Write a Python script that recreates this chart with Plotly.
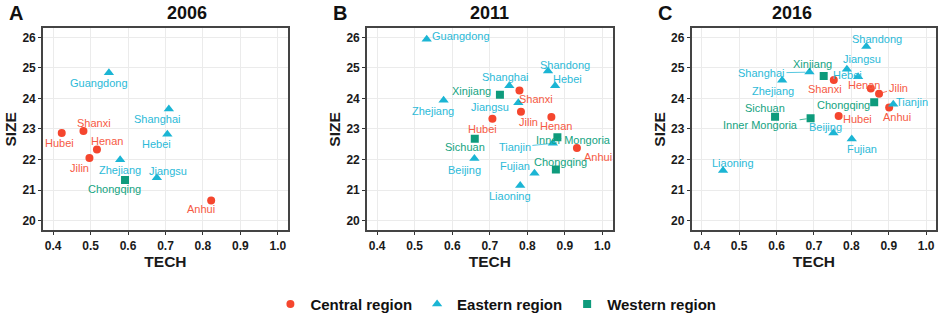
import plotly.graph_objects as go

# ---- data ----
years = ["2006", "2011", "2016"]
panel_letters = ["A", "B", "C"]

central = ["Anhui", "Henan", "Hubei", "Jilin", "Shanxi"]
eastern = ["Beijing", "Fujian", "Guangdong", "Hebei", "Jiangsu", "Liaoning",
           "Shandong", "Shanghai", "Tianjin", "Zhejiang"]
western = ["Chongqing", "Inner Mongoria", "Sichuan", "Xinjiang"]

prov_2006 = ["Guangdong", "Shanghai", "Hebei", "Hubei", "Shanxi", "Henan",
             "Jilin", "Zhejiang", "Jiangsu", "Chongqing", "Anhui"]
tech_2006 = [0.549, 0.709, 0.705, 0.423, 0.481, 0.517, 0.497, 0.579, 0.677, 0.592, 0.822]
size_2006 = [24.84, 23.65, 22.83, 22.87, 22.93, 22.33, 22.05, 21.99, 21.40, 21.33, 20.66]

prov_2011 = ["Guangdong", "Shandong", "Hebei", "Shanghai", "Shanxi", "Xinjiang",
             "Zhejiang", "Jiangsu", "Jilin", "Hubei", "Henan", "Sichuan",
             "Inner Mongoria", "Tianjin", "Anhui", "Beijing", "Chongqing",
             "Fujian", "Liaoning"]
tech_2011 = [0.532, 0.855, 0.874, 0.752, 0.779, 0.727, 0.577, 0.776, 0.783, 0.707,
             0.864, 0.660, 0.880, 0.868, 0.932, 0.659, 0.876, 0.819, 0.781]
size_2011 = [25.94, 24.90, 24.41, 24.41, 24.26, 24.12, 23.94, 23.86, 23.56, 23.33,
             23.39, 22.68, 22.73, 22.53, 22.38, 22.03, 21.67, 21.55, 21.15]

prov_2016 = ["Shandong", "Jiangsu", "Hebei", "Shanghai", "Xinjiang", "Zhejiang",
             "Shanxi", "Henan", "Jilin", "Chongqing", "Tianjin", "Anhui", "Sichuan",
             "Inner Mongoria", "Hubei", "Beijing", "Fujian", "Liaoning"]
tech_2016 = [0.840, 0.788, 0.818, 0.688, 0.726, 0.615, 0.753, 0.852, 0.874, 0.861,
             0.912, 0.901, 0.596, 0.691, 0.766, 0.752, 0.801, 0.457]
size_2016 = [25.70, 24.95, 24.71, 24.86, 24.73, 24.59, 24.60, 24.32, 24.15, 23.87,
             23.81, 23.70, 23.40, 23.35, 23.42, 22.87, 22.67, 21.64]

x_ticks = [0.4, 0.5, 0.6, 0.7, 0.8, 0.9, 1.0]
x_tick_text = ["0.4", "0.5", "0.6", "0.7", "0.8", "0.9", "1.0"]
y_ticks = [20, 21, 22, 23, 24, 25, 26]

# ---- styling ----
regions = [
    ("Central region", central, "circle", 8, "#F5462E", "#F65A44"),
    ("Eastern region", eastern, "triangle-up", 9, "#1BB5D4", "#2CBAD8"),
    ("Western region", western, "square", 8, "#0E9B7C", "#14A381"),
]

# label offsets in px (dx right, dy down), third item = leader line
label_pos = {
    "2006": {
        "Guangdong": (-10, 10, 0), "Shanghai": (-11, 10, 0), "Hebei": (-11, 10, 0),
        "Hubei": (-2, 10, 0), "Shanxi": (11, -8, 0), "Henan": (10, -8, 0),
        "Jilin": (-10, 10, 0), "Zhejiang": (0, 10, 0), "Jiangsu": (11, -7, 0),
        "Chongqing": (-11, 9, 0), "Anhui": (-10, 9, 0),
    },
    "2011": {
        "Guangdong": (34, -3, 0), "Shandong": (17, -6, 0), "Hebei": (12, -7, 0),
        "Shanghai": (-4, -9, 0), "Shanxi": (17, 9, 0), "Xinjiang": (-28, -4, 0),
        "Zhejiang": (-11, 11, 0), "Jiangsu": (-28, 4, 0), "Jilin": (8, 10, 0),
        "Hubei": (-10, 10, 0), "Henan": (5, 9, 0), "Sichuan": (-10, 8, 0),
        "Inner Mongoria": (16, 3, 0), "Tianjin": (-38, 4, 1), "Anhui": (21, 9, 0),
        "Beijing": (-10, 11, 0), "Chongqing": (5, -8, 0), "Fujian": (-19, -7, 0),
        "Liaoning": (-10, 11, 0),
    },
    "2016": {
        "Shandong": (11, -7, 0), "Jiangsu": (15, -10, 0), "Hebei": (-11, -2, 0),
        "Shanghai": (-48, 1, 1), "Xinjiang": (-11, -12, 0), "Zhejiang": (-9, 11, 0),
        "Shanxi": (-9, 9, 0), "Henan": (-7, -4, 0), "Jilin": (19, -6, 1),
        "Chongqing": (-31, 3, 0), "Tianjin": (19, -2, 0), "Anhui": (8, 9, 0),
        "Sichuan": (-10, -9, 0), "Inner Mongoria": (-50, 7, 1), "Hubei": (19, 3, 0),
        "Beijing": (-8, -6, 0), "Fujian": (10, 10, 0), "Liaoning": (10, -7, 0),
    },
}

panels = [(prov_2006, tech_2006, size_2006),
          (prov_2011, tech_2011, size_2011),
          (prov_2016, tech_2016, size_2016)]

x_domains = [[0.0457, 0.306], [0.390, 0.651], [0.735, 0.995]]
y_domain = [0.271, 0.910]

FONT = "Liberation Sans, Arial"

fig = go.Figure()
annotations = []

for i, (prov, tech, size) in enumerate(panels):
    xa = "x" if i == 0 else "x%d" % (i + 1)
    ya = "y" if i == 0 else "y%d" % (i + 1)
    for name, members, symbol, msize, color, tcolor in regions:
        idx = [k for k, p in enumerate(prov) if p in members]
        fig.add_trace(go.Scatter(
            x=[tech[k] for k in idx], y=[size[k] for k in idx],
            mode="markers", name=name, legendgroup=name, showlegend=(i == 0),
            marker=dict(symbol=symbol, size=msize, color=color),
            xaxis=xa, yaxis=ya, hoverinfo="skip"))
        for k in idx:
            dx, dy, lead = label_pos[years[i]][prov[k]]
            a = dict(x=tech[k], y=size[k], xref=xa, yref=ya, text=prov[k],
                     font=dict(size=11, color=tcolor, family=FONT))
            if lead:
                a.update(showarrow=True, arrowhead=0, arrowwidth=0.8, arrowcolor=tcolor,
                         ax=dx, ay=dy, standoff=4)
            else:
                a.update(showarrow=False, xshift=dx, yshift=-dy)
            annotations.append(a)

    axis_common = dict(showline=True, linecolor="#444444", linewidth=1.6, mirror=True,
                       showgrid=True, gridcolor="#EBEBEB", gridwidth=1, automargin=False,
                       ticks="outside", ticklen=3, tickcolor="#333333", zeroline=False,
                       tickfont=dict(size=12, color="#1a1a1a", family=FONT, weight="bold"))
    fig.layout[("xaxis" if i == 0 else "xaxis%d" % (i + 1))] = dict(
        axis_common, domain=x_domains[i], anchor=ya, range=[0.373, 1.027],
        tickvals=x_ticks, ticktext=x_tick_text,
        title=dict(text="TECH", standoff=2,
                   font=dict(size=15.5, color="#1a1a1a", family=FONT, weight="bold")))
    fig.layout[("yaxis" if i == 0 else "yaxis%d" % (i + 1))] = dict(
        axis_common, domain=y_domain, anchor=xa, range=[19.68, 26.29],
        tickvals=y_ticks,
        title=dict(text="SIZE", standoff=2,
                   font=dict(size=15.5, color="#1a1a1a", family=FONT, weight="bold")))

    xc = (x_domains[i][0] + x_domains[i][1]) / 2
    annotations.append(dict(x=xc, y=1.0, xref="paper", yref="paper", yanchor="top",
                            yshift=-1, text="<b>%s</b>" % years[i], showarrow=False,
                            font=dict(size=18, color="#111111", family=FONT)))
    annotations.append(dict(x=x_domains[i][0] - 0.038, y=1.0, xref="paper", yref="paper",
                            yanchor="top", xanchor="left", yshift=0,
                            text="<b>%s</b>" % panel_letters[i], showarrow=False,
                            font=dict(size=20, color="#111111", family=FONT)))

fig.update_layout(
    width=941, height=321, margin=dict(l=0, r=0, t=0, b=0),
    plot_bgcolor="white", paper_bgcolor="white",
    annotations=annotations,
    legend=dict(orientation="h", x=0.527, xanchor="center", y=0.037, yanchor="middle",
                font=dict(size=15, color="#111111", family=FONT, weight="bold"),
                itemwidth=30, tracegroupgap=0),
)

# page body has a default 8px margin; drop it so the figure sits at the window corner
fig.write_html("out.html", config={"displayModeBar": False},
               post_script="document.body.style.margin='0px';")
